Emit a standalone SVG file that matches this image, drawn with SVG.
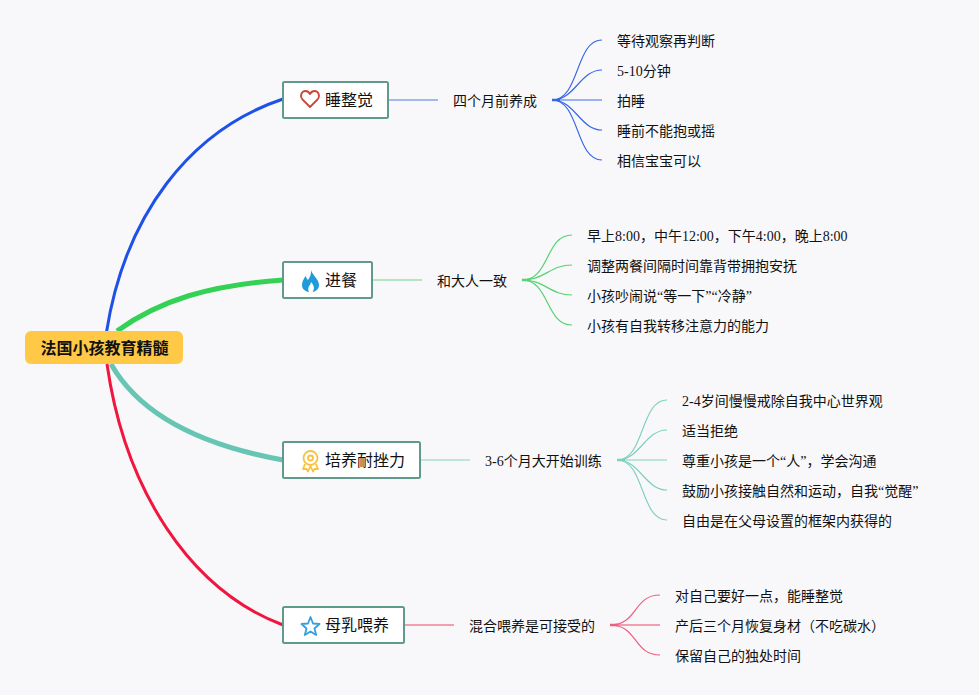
<svg xmlns="http://www.w3.org/2000/svg" width="979" height="695" viewBox="0 0 979 695">
<style>
text{font-family:"Liberation Serif","Noto Sans CJK SC",serif;fill:#111}
.c{font-size:14px}
.s{font-size:14px}
.m{font-size:16px}
.r{font-size:16px;font-weight:700}
.box{fill:#fff;stroke:#5f9a8c;stroke-width:2}
.ic{fill:none;stroke-width:1.8;stroke-linejoin:round}
</style>
<rect width="979" height="695" fill="#f8f8fa"/>
<g id="connectors" fill="none" stroke-linecap="butt">
<path d="M106.500 332C125 215 190 130 283 99" stroke="#1d51e8" stroke-width="3"/>
<path d="M117 331C160 300 210 285 283 280" stroke="#33d154" stroke-width="5"/>
<path d="M111 364C140 415 200 445 283 460" stroke="#66c6b3" stroke-width="5"/>
<path d="M107 364C125 490 190 590 283 625" stroke="#f0163f" stroke-width="3"/>
<g stroke="#8aa3e6" stroke-width="1.500"><path d="M389 100H438"/></g>
<g stroke="#3565e8" stroke-width="1.200"><path d="M552 100H602" stroke="#7f9cec" stroke-width="1.500"/><path d="M552 100C580 100 575 40 602 40"/><path d="M552 100C575 100 580 70 602 70"/><path d="M552 100C575 100 580 130 602 130"/><path d="M552 100C580 100 575 160 602 160"/><path d="M552 100H560" stroke-width="2.500"/></g>
<g stroke="#9de0ad" stroke-width="1.500"><path d="M373 280H422"/></g>
<g stroke="#55d272" stroke-width="1.200"><path d="M522 280C550 280 545 235 572 235"/><path d="M522 280C545 280 550 265 572 265"/><path d="M522 280C545 280 550 295 572 295"/><path d="M522 280C550 280 545 325 572 325"/><path d="M522 280H530" stroke-width="2.500"/></g>
<g stroke="#a9dfd3" stroke-width="1.500"><path d="M421 460H470"/></g>
<g stroke="#7dcfbe" stroke-width="1.200"><path d="M617 460H667" stroke-width="1.500" stroke="#a9dfd3"/><path d="M617 460C645 460 640 400 667 400"/><path d="M617 460C640 460 645 430 667 430"/><path d="M617 460C640 460 645 490 667 490"/><path d="M617 460C645 460 640 520 667 520"/><path d="M617 460H625" stroke-width="2.500"/></g>
<g stroke="#f27f95" stroke-width="1.500"><path d="M405 625H454"/></g>
<g stroke="#ee5d7c" stroke-width="1.200"><path d="M610 625H660" stroke-width="1.500" stroke="#f27f95"/><path d="M610 625C638 625 633 595 660 595"/><path d="M610 625C638 625 633 655 660 655"/><path d="M610 625H618" stroke-width="2.500"/></g>
</g>
<g id="root"><rect x="25" y="331" width="158" height="33" rx="6" fill="#ffc847"/><text class="r" x="40.500" y="354">法国小孩教育精髓</text></g>
<g id="n1"><rect class="box" x="283" y="82" width="105" height="36" rx="1.500"/>
<path class="ic" stroke="#c9483a" d="M310 107L302.500 99.500C299.500 96 301.500 91 305.500 91C307.500 91 309 92 310 94C311 92 312.500 91 314.500 91C318.500 91 320.500 96 317.500 99.500Z"/>
<text class="m" x="325" y="106">睡整觉</text></g>
<g id="n2"><rect class="box" x="283" y="262" width="89" height="36" rx="1.500"/>
<path fill="#1f9bdc" d="M311 270C312 275 319 279 319 285C319 289 316 291.500 312.500 292C315 289 314 285 311 282C311 285 306.500 287 309 292C305 291.500 302 289 302 285C302 281 304 279 305.500 276C306.500 278 307 279 308 280C310 277 311.500 274 311 270Z"/>
<text class="m" x="325" y="286">进餐</text></g>
<g id="n3"><rect class="box" x="283" y="442" width="137" height="36" rx="1.500"/>
<g class="ic" stroke="#f7c23f"><circle cx="310.500" cy="458" r="7"/><circle cx="310.500" cy="458" r="2.500"/><path d="M305 464L303 469L306.500 469L308 471.500L310.500 466L313 471.500L314.500 469L318 469L316 464"/></g>
<text class="m" x="325" y="466">培养耐挫力</text></g>
<g id="n4"><rect class="box" x="283" y="607" width="121" height="36" rx="1.500"/>
<path class="ic" stroke="#35a0e0" d="M310.500 617L313 623.500L319.500 624L314.500 628.500L316.200 635L310.500 631.500L304.800 635L306.500 628.500L301.500 624L308 623.500Z"/>
<text class="m" x="325" y="631">母乳喂养</text></g>
<g id="s1"><text class="s" x="453" y="106">四个月前养成</text></g>
<g id="c11"><text class="c" x="617" y="46">等待观察再判断</text></g>
<g id="c12"><text class="c" x="617" y="76">5-10分钟</text></g>
<g id="c13"><text class="c" x="617" y="106">拍睡</text></g>
<g id="c14"><text class="c" x="617" y="136">睡前不能抱或摇</text></g>
<g id="c15"><text class="c" x="617" y="166">相信宝宝可以</text></g>
<g id="s2"><text class="s" x="437" y="286">和大人一致</text></g>
<g id="c21"><text class="c" x="587" y="241">早上8:00，中午12:00，下午4:00，晚上8:00</text></g>
<g id="c22"><text class="c" x="587" y="271">调整两餐间隔时间靠背带拥抱安抚</text></g>
<g id="c23"><text class="c" x="587" y="301">小孩吵闹说“等一下”“冷静”</text></g>
<g id="c24"><text class="c" x="587" y="331">小孩有自我转移注意力的能力</text></g>
<g id="s3"><text class="s" x="485" y="466">3-6个月大开始训练</text></g>
<g id="c31"><text class="c" x="682" y="406">2-4岁间慢慢戒除自我中心世界观</text></g>
<g id="c32"><text class="c" x="682" y="436">适当拒绝</text></g>
<g id="c33"><text class="c" x="682" y="466">尊重小孩是一个“人”，学会沟通</text></g>
<g id="c34"><text class="c" x="682" y="496">鼓励小孩接触自然和运动，自我“觉醒”</text></g>
<g id="c35"><text class="c" x="682" y="526">自由是在父母设置的框架内获得的</text></g>
<g id="s4"><text class="s" x="469" y="631">混合喂养是可接受的</text></g>
<g id="c41"><text class="c" x="675" y="601">对自己要好一点，能睡整觉</text></g>
<g id="c42"><text class="c" x="675" y="631">产后三个月恢复身材（不吃碳水）</text></g>
<g id="c43"><text class="c" x="675" y="661">保留自己的独处时间</text></g>
</svg>
